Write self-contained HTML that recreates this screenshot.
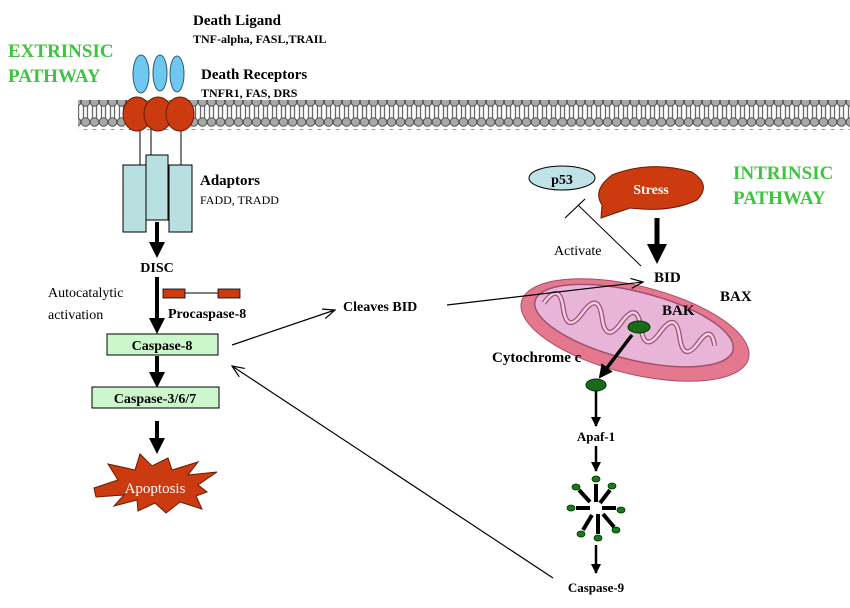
<!DOCTYPE html>
<html><head><style>
html,body{margin:0;padding:0;background:#fff;}
svg{display:block;}
text{font-family:"Liberation Serif",serif;}
.b{font-weight:bold;}
</style></head><body>
<svg width="850" height="608" viewBox="0 0 850 608" xmlns="http://www.w3.org/2000/svg">
<defs>
<pattern id="mem" x="0" y="0" width="9" height="32" patternUnits="userSpaceOnUse">
<rect width="9" height="32" fill="#fff"/>
<line x1="2.5" y1="9" x2="2.5" y2="23" stroke="#666" stroke-width="1.3"/>
<line x1="6.5" y1="9" x2="6.5" y2="23" stroke="#666" stroke-width="1.3"/>
<circle cx="4.5" cy="6" r="4.3" fill="#a8a8a8" stroke="#555" stroke-width="1"/>
<circle cx="4.5" cy="26" r="4.3" fill="#a8a8a8" stroke="#555" stroke-width="1"/>
</pattern>
<marker id="th" markerWidth="4" markerHeight="4" refX="2" refY="2" orient="auto" markerUnits="strokeWidth"><path d="M0,0 L4,2 L0,4 Z" fill="#000"/></marker>
<marker id="op" markerWidth="14" markerHeight="12" refX="13" refY="6" orient="auto" markerUnits="userSpaceOnUse"><path d="M1,1 L13,6 L1,11" fill="none" stroke="#000" stroke-width="1.2"/></marker>
<marker id="sm" markerWidth="10" markerHeight="10" refX="9" refY="5" orient="auto" markerUnits="userSpaceOnUse"><path d="M0,0 L10,5 L0,10 Z" fill="#000"/></marker>
</defs>

<rect x="78" y="100" width="772" height="30" fill="url(#mem)"/>

<text x="8" y="57" font-size="19" class="b" fill="#3ec43e">EXTRINSIC</text>
<text x="8" y="82" font-size="19" class="b" fill="#3ec43e">PATHWAY</text>
<text x="193" y="25" font-size="15" class="b">Death Ligand</text>
<text x="193" y="43" font-size="12" class="b">TNF-alpha, FASL,TRAIL</text>
<text x="201" y="79" font-size="15" class="b">Death Receptors</text>
<text x="201" y="97" font-size="12" class="b">TNFR1, FAS, DRS</text>

<line x1="140" y1="125" x2="140" y2="166" stroke="#000"/>
<line x1="151" y1="125" x2="151" y2="156" stroke="#000"/>
<line x1="181" y1="125" x2="181" y2="166" stroke="#000"/>
<ellipse cx="141" cy="74" rx="8" ry="19" fill="#6ec8f0" stroke="#2a5a80"/>
<ellipse cx="160" cy="73" rx="7" ry="18" fill="#6ec8f0" stroke="#2a5a80"/>
<ellipse cx="177" cy="74" rx="7" ry="18" fill="#6ec8f0" stroke="#2a5a80"/>
<ellipse cx="137" cy="114" rx="14" ry="17" fill="#cc3a10" stroke="#6a1a00"/>
<ellipse cx="158" cy="114" rx="14" ry="17" fill="#cc3a10" stroke="#6a1a00"/>
<ellipse cx="180" cy="114" rx="14" ry="17" fill="#cc3a10" stroke="#6a1a00"/>

<rect x="123" y="165" width="23" height="67" fill="#b8e0e0" stroke="#000"/>
<rect x="169" y="165" width="23" height="67" fill="#b8e0e0" stroke="#000"/>
<rect x="146" y="155" width="22" height="65" fill="#b8e0e0" stroke="#000"/>
<text x="200" y="185" font-size="15" class="b">Adaptors</text>
<text x="200" y="204" font-size="12">FADD, TRADD</text>

<line x1="157" y1="222" x2="157" y2="250" stroke="#000" stroke-width="4" marker-end="url(#th)"/>
<text x="157" y="272" font-size="14" class="b" text-anchor="middle">DISC</text>
<line x1="157" y1="277" x2="157" y2="326" stroke="#000" stroke-width="4" marker-end="url(#th)"/>
<text x="48" y="297" font-size="14">Autocatalytic</text>
<text x="48" y="319" font-size="14">activation</text>
<rect x="163" y="289" width="22" height="9" fill="#cc3a10" stroke="#000" stroke-width="0.8"/>
<rect x="218" y="289" width="22" height="9" fill="#cc3a10" stroke="#000" stroke-width="0.8"/>
<line x1="185" y1="293" x2="218" y2="293" stroke="#000"/>
<text x="168" y="318" font-size="14" class="b">Procaspase-8</text>
<rect x="107" y="334" width="111" height="21" fill="#ccf6cc" stroke="#000"/>
<text x="162" y="350" font-size="14" class="b" text-anchor="middle">Caspase-8</text>
<line x1="157" y1="356" x2="157" y2="380" stroke="#000" stroke-width="4" marker-end="url(#th)"/>
<rect x="92" y="387" width="127" height="21" fill="#ccf6cc" stroke="#000"/>
<text x="155" y="403" font-size="14" class="b" text-anchor="middle">Caspase-3/6/7</text>
<line x1="157" y1="421" x2="157" y2="446" stroke="#000" stroke-width="4" marker-end="url(#th)"/>
<polygon points="94,488 118,480 108,464 135,470 140,454 152,466 168,458 172,470 198,462 188,475 217,472 198,485 207,492 196,496 202,509 180,502 166,513 155,503 138,511 137,500 114,506 124,495 96,497" fill="#cc3a10" stroke="#6a1a00"/>
<text x="155" y="493" font-size="15" fill="#fff" text-anchor="middle">Apoptosis</text>

<line x1="232" y1="345" x2="335" y2="310" stroke="#000" stroke-width="1.2" marker-end="url(#op)"/>
<text x="343" y="311" font-size="14" class="b">Cleaves BID</text>
<line x1="553" y1="578" x2="232" y2="366" stroke="#000" stroke-width="1.2" marker-end="url(#op)"/>

<g transform="rotate(14 635 330)">
<ellipse cx="635" cy="330" rx="117" ry="44" fill="#e3788f" stroke="#b04a60"/>
<ellipse cx="633" cy="326" rx="102" ry="34" fill="#e8b4d8" stroke="#a05070" stroke-width="1.5"/>
<path d="M540,326 q10,-25 20,0 q10,25 20,0 q10,-25 20,0 q10,25 20,0 q10,-25 20,0 q10,25 20,0 q10,-25 20,0 q10,25 20,0 q8,-20 16,0" fill="none" stroke="#a05070" stroke-width="5"/>
<path d="M540,326 q10,-25 20,0 q10,25 20,0 q10,-25 20,0 q10,25 20,0 q10,-25 20,0 q10,25 20,0 q10,-25 20,0 q10,25 20,0 q8,-20 16,0" fill="none" stroke="#f0d0e8" stroke-width="2.5"/>
</g>
<line x1="447" y1="305" x2="643" y2="282" stroke="#000" stroke-width="1.2" marker-end="url(#op)"/>

<text x="733" y="179" font-size="19" class="b" fill="#3ec43e">INTRINSIC</text>
<text x="733" y="204" font-size="19" class="b" fill="#3ec43e">PATHWAY</text>
<ellipse cx="562" cy="178" rx="33" ry="12" fill="#bfe3e8" stroke="#000"/>
<text x="562" y="184" font-size="14" class="b" text-anchor="middle">p53</text>
<path d="M602,205 Q592,190 612,175 Q650,160 692,172 Q712,185 697,200 Q670,213 630,208 L601,218 Z" fill="#cc3a10" stroke="#6a1a00"/>
<text x="651" y="194" font-size="14" class="b" fill="#fff" text-anchor="middle">Stress</text>
<line x1="641" y1="266" x2="578" y2="205" stroke="#000" stroke-width="1"/>
<line x1="565" y1="218" x2="585" y2="199" stroke="#000" stroke-width="1.2"/>
<text x="554" y="255" font-size="14">Activate</text>
<line x1="657" y1="218" x2="657" y2="254" stroke="#000" stroke-width="5" marker-end="url(#th)"/>
<text x="654" y="282" font-size="15" class="b">BID</text>
<text x="720" y="301" font-size="15" class="b">BAX</text>
<text x="662" y="315" font-size="15" class="b">BAK</text>
<ellipse cx="639" cy="327" rx="11" ry="6" fill="#1a6a1a" stroke="#003300"/>
<line x1="632" y1="335" x2="603" y2="373" stroke="#000" stroke-width="3.5" marker-end="url(#th)"/>
<text x="492" y="362" font-size="15" class="b">Cytochrome c</text>
<ellipse cx="596" cy="385" rx="10" ry="6" fill="#1a6a1a" stroke="#003300"/>
<line x1="596" y1="391" x2="596" y2="426" stroke="#000" stroke-width="2.5" marker-end="url(#sm)"/>
<text x="596" y="441" font-size="13" class="b" text-anchor="middle">Apaf-1</text>
<line x1="596" y1="446" x2="596" y2="471" stroke="#000" stroke-width="2.5" marker-end="url(#sm)"/>
<g stroke="#000" stroke-width="4">
<line x1="596" y1="484" x2="596" y2="502"/>
<line x1="579" y1="490" x2="590" y2="502"/>
<line x1="610" y1="490" x2="600" y2="503"/>
<line x1="576" y1="508" x2="590" y2="508"/>
<line x1="602" y1="508" x2="616" y2="508"/>
<line x1="592" y1="515" x2="583" y2="530"/>
<line x1="598" y1="514" x2="598" y2="534"/>
<line x1="603" y1="514" x2="614" y2="527"/>
</g>
<g fill="#1a7a1a" stroke="#003300" stroke-width="0.8">
<ellipse cx="596" cy="479" rx="4" ry="3"/>
<ellipse cx="576" cy="487" rx="4" ry="3"/>
<ellipse cx="612" cy="486" rx="4" ry="3"/>
<ellipse cx="571" cy="508" rx="4" ry="3"/>
<ellipse cx="621" cy="510" rx="4" ry="3"/>
<ellipse cx="581" cy="534" rx="4" ry="3"/>
<ellipse cx="598" cy="538" rx="4" ry="3"/>
<ellipse cx="616" cy="530" rx="4" ry="3"/>
</g>
<line x1="596" y1="545" x2="596" y2="573" stroke="#000" stroke-width="2.5" marker-end="url(#sm)"/>
<text x="596" y="592" font-size="13" class="b" text-anchor="middle">Caspase-9</text>
</svg>
</body></html>
